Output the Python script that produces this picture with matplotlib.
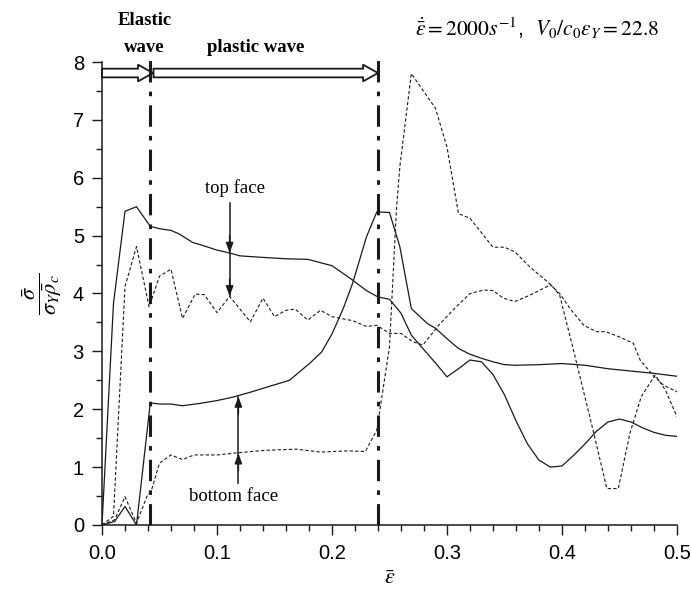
import matplotlib
matplotlib.use('Agg')
import matplotlib.pyplot as plt
from matplotlib.patches import FancyArrow

plt.rcParams['mathtext.fontset'] = 'stix'
plt.rcParams['font.family'] = 'Liberation Sans'

# top face, solid
x_s1 = [0.0, 0.01, 0.02, 0.03, 0.042, 0.05, 0.06, 0.067, 0.079, 0.086, 0.1, 0.111, 0.12,
        0.143, 0.16, 0.179, 0.2, 0.216, 0.23, 0.24, 0.25, 0.26, 0.269, 0.279, 0.29, 0.30,
        0.31, 0.32, 0.33, 0.34, 0.35, 0.36, 0.37, 0.38, 0.39, 0.40, 0.41, 0.42, 0.43,
        0.44, 0.45, 0.46, 0.47, 0.48, 0.49, 0.5]
y_s1 = [0.0, 3.83, 5.42, 5.5, 5.16, 5.12, 5.09, 5.03, 4.88, 4.84, 4.75, 4.7, 4.65,
        4.62, 4.6, 4.59, 4.48, 4.26, 4.05, 3.94, 3.9, 3.66, 3.28, 3.05, 2.8, 2.56,
        2.7, 2.85, 2.82, 2.6, 2.25, 1.8, 1.4, 1.12, 1.0, 1.02, 1.2, 1.4, 1.62,
        1.78, 1.83, 1.78, 1.68, 1.6, 1.55, 1.53]

# bottom face, solid
x_s2 = [0.0, 0.011, 0.02, 0.03, 0.042, 0.05, 0.06, 0.07, 0.085, 0.1, 0.114, 0.13, 0.143,
        0.163, 0.181, 0.191, 0.2, 0.21, 0.218, 0.23, 0.239, 0.25, 0.259, 0.269, 0.283,
        0.29, 0.30, 0.31, 0.32, 0.33, 0.34, 0.35, 0.36, 0.38, 0.40, 0.42, 0.44, 0.46,
        0.48, 0.5]
y_s2 = [0.0, 0.06, 0.32, 0.0, 2.11, 2.09, 2.09, 2.06, 2.1, 2.15, 2.21, 2.3, 2.38,
        2.5, 2.8, 2.99, 3.3, 3.75, 4.18, 4.98, 5.41, 5.4, 4.81, 3.74, 3.48,
        3.4, 3.22, 3.05, 2.95, 2.88, 2.82, 2.77, 2.76, 2.77, 2.79, 2.76, 2.7, 2.66,
        2.62, 2.57]

# top face, dashed
x_d1 = [0.0, 0.01, 0.02, 0.03, 0.041, 0.05, 0.06, 0.07, 0.081, 0.089, 0.1, 0.111, 0.129,
        0.14, 0.15, 0.16, 0.168, 0.179, 0.19, 0.2, 0.218, 0.23, 0.239, 0.25, 0.26, 0.27,
        0.279, 0.294, 0.308, 0.32, 0.332, 0.34, 0.349, 0.359, 0.372, 0.39, 0.398, 0.407,
        0.419, 0.43, 0.438, 0.45, 0.462, 0.468, 0.479, 0.488, 0.5]
y_d1 = [0.0, 0.15, 4.12, 4.81, 3.77, 4.3, 4.42, 3.57, 3.99, 3.98, 3.67, 3.95, 3.51,
        3.92, 3.6, 3.71, 3.73, 3.54, 3.71, 3.6, 3.53, 3.43, 3.45, 3.31, 3.31, 3.17,
        3.11, 3.48, 3.77, 4.0, 4.06, 4.05, 3.92, 3.86, 3.97, 4.15, 4.0, 3.74,
        3.45, 3.34, 3.34, 3.25, 3.14, 2.85, 2.59, 2.42, 2.3]

# bottom face, dashed
x_d2 = [0.0, 0.011, 0.02, 0.03, 0.039, 0.043, 0.05, 0.06, 0.07, 0.08, 0.1, 0.119, 0.142,
        0.169, 0.19, 0.213, 0.229, 0.239, 0.25, 0.256, 0.259, 0.269, 0.29, 0.30, 0.31,
        0.32, 0.34, 0.35, 0.359, 0.372, 0.391, 0.398, 0.41, 0.427, 0.439, 0.449, 0.459,
        0.469, 0.481, 0.49, 0.5]
y_d2 = [0.0, 0.09, 0.49, 0.03, 0.49, 0.6, 1.07, 1.21, 1.13, 1.21, 1.21, 1.25, 1.29,
        1.31, 1.26, 1.28, 1.27, 1.64, 3.08, 5.44, 6.19, 7.8, 7.2, 6.53, 5.38,
        5.3, 4.8, 4.8, 4.72, 4.46, 4.14, 3.97, 3.02, 1.64, 0.63, 0.63, 1.58,
        2.22, 2.59, 2.33, 1.87]

wave_fronts = [0.042, 0.24]

fig = plt.figure(figsize=(6.91, 5.89), dpi=100)
ax = fig.add_axes([0.1476, 0.1087, 0.8321, 0.786])

ax.plot(x_s1, y_s1, color='#1a1a1a', lw=0.9)
ax.plot(x_s2, y_s2, color='#1a1a1a', lw=0.9)
ax.plot(x_d1, y_d1, color='#1a1a1a', lw=0.8, dashes=(3, 2))
ax.plot(x_d2, y_d2, color='#1a1a1a', lw=0.8, dashes=(3, 2))

for xf in wave_fronts:
    ax.plot([xf, xf], [0, 8.05], color='#1a1a1a', lw=2.2, dashes=(7, 3, 1.5, 3),
            clip_on=False)

# hollow block arrows for the wave regions
for x0, x1 in [(0.0, 0.0443), (0.0448, 0.24)]:
    ax.add_patch(FancyArrow(x0, 7.81, x1 - x0, 0, width=0.15, head_width=0.29,
                            head_length=0.013, length_includes_head=True,
                            fc='white', ec='#1a1a1a', lw=1.3, clip_on=False))

ax.text(0.037, 8.72, 'Elastic', family='Liberation Serif', fontweight='bold',
        fontsize=13.5, ha='center', va='center')
ax.text(0.037, 8.25, 'wave', family='Liberation Serif', fontweight='bold',
        fontsize=13.5, ha='center', va='center')
ax.text(0.134, 8.25, 'plastic wave', family='Liberation Serif', fontweight='bold',
        fontsize=13.5, ha='center', va='center')
ax.text(0.272, 8.58, r'$\dot{\bar{\varepsilon}}=2000s^{-1}$,  $V_0/c_0\varepsilon_Y=22.8$',
        fontsize=15.5, ha='left', va='center')

# face annotations
ax.text(0.116, 5.82, 'top face', family='Liberation Serif', fontsize=13.5,
        ha='center', va='center')
ax.plot([0.111, 0.111], [5.56, 3.95], color='#1a1a1a', lw=1.1)
for yh in [4.7, 3.95]:
    ax.annotate('', xy=(0.111, yh), xytext=(0.111, yh + 0.3),
                arrowprops=dict(arrowstyle='-|>,head_length=0.6,head_width=0.22',
                                color='#1a1a1a', lw=1.1, shrinkA=0, shrinkB=0))
ax.text(0.114, 0.49, 'bottom face', family='Liberation Serif', fontsize=13.5,
        ha='center', va='center')
ax.plot([0.1186, 0.1186], [0.72, 2.22], color='#1a1a1a', lw=1.1)
for yh in [1.24, 2.22]:
    ax.annotate('', xy=(0.1186, yh), xytext=(0.1186, yh - 0.3),
                arrowprops=dict(arrowstyle='-|>,head_length=0.6,head_width=0.22',
                                color='#1a1a1a', lw=1.1, shrinkA=0, shrinkB=0))

ax.set_xlim(0, 0.5)
ax.set_ylim(0, 8)
ax.set_xticks([0, 0.1, 0.2, 0.3, 0.4, 0.5])
ax.set_xticklabels(['0.0', '0.1', '0.2', '0.3', '0.4', '0.5'])
ax.set_xticks([i * 0.02 for i in range(26)], minor=True)
ax.set_yticks(range(9))
ax.set_yticks([i * 0.5 for i in range(17)], minor=True)
ax.tick_params(which='major', length=7, width=1, labelsize=14.5, color='#1a1a1a')
ax.tick_params(axis='x', which='major', pad=7)
ax.tick_params(axis='y', which='major', pad=6)
ax.tick_params(which='minor', length=4, width=1, color='#1a1a1a')
ax.spines['top'].set_visible(False)
ax.spines['right'].set_visible(False)
for s in ['left', 'bottom']:
    ax.spines[s].set_linewidth(1.1)
    ax.spines[s].set_color('#1a1a1a')

ax.set_xlabel(r'$\bar{\varepsilon}$', fontsize=16, labelpad=3)
ax.set_ylabel(r'$\dfrac{\bar{\sigma}}{\sigma_Y\bar{\rho}_c}$', fontsize=16, labelpad=6)

fig.savefig('out.png', dpi=100)
